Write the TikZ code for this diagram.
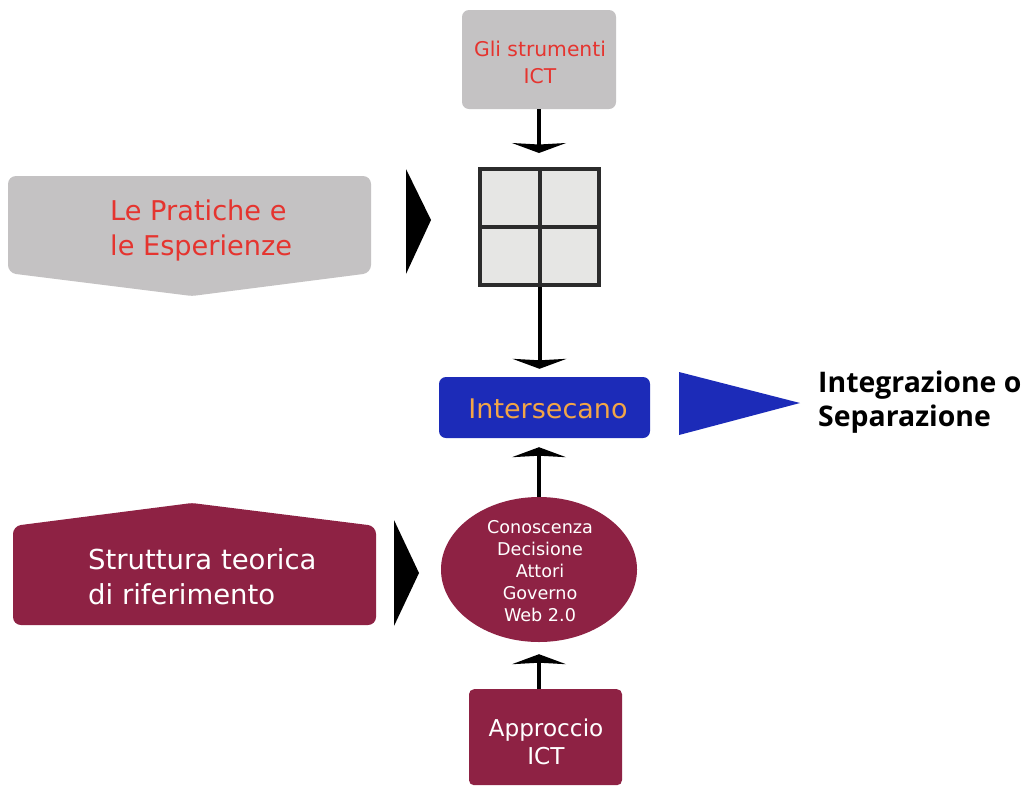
\documentclass[tikz,border=0pt]{standalone}
\usepackage{fontspec}
\setmainfont{DejaVu Sans}
\newfontfamily\boldface{Open Sans}
\usetikzlibrary{arrows.meta,shapes.geometric}
\definecolor{grigio}{HTML}{C4C2C3}
\definecolor{rosso}{HTML}{E5342F}
\definecolor{bordeaux}{HTML}{8E2244}
\definecolor{blu}{HTML}{1C2BB8}
\definecolor{arancio}{HTML}{F2A547}
\definecolor{cella}{HTML}{E6E6E4}
\definecolor{scuro}{HTML}{2B2B2B}
\tikzset{
  box/.style={rectangle,rounded corners=7pt,inner sep=0pt,align=center},
  txt/.style={inner sep=0pt,align=center},
  conn/.style={line width=4pt,-{Stealth[length=10pt,width=54pt,inset=1.5pt]}},
  greybox/.style={box,fill=grigio,text=rosso},
  redbox/.style={box,fill=bordeaux,text=white},
  pointer/.style={fill=black}
}
\begin{document}
\begin{tikzpicture}[x=1pt,y=-1pt]
\useasboundingbox (0,0) rectangle (1022,785);
\fill[white] (0,0) rectangle (1022,785);
% boxes
\node[greybox,minimum width=154pt,minimum height=99pt] (strumenti) at (539,59.5) {};
\node[txt,text=rosso,font=\fontsize{20.3}{27}\selectfont] (strumentitxt) at (540,62) {Gli strumenti\\ICT};
\node[draw=scuro,line width=4pt,fill=cella,minimum width=119pt,minimum height=116pt,inner sep=0pt] (griglia) at (539.5,227) {};
\draw[scuro,line width=4pt] (griglia.north) -- (griglia.south);
\draw[scuro,line width=4pt] (griglia.west) -- (griglia.east);
\node[box,fill=blu,minimum width=211pt,minimum height=61pt] (inter) at (544.5,407.5) {};
\node[txt,text=arancio,font=\fontsize{27}{30}\selectfont] (intertxt) at (548,409) {Intersecano};
\node[ellipse,fill=bordeaux,minimum width=196pt,minimum height=145pt,inner sep=0pt] (cono) at (539,569.5) {};
\node[txt,text=white,font=\fontsize{17.6}{22}\selectfont] (conotxt) at (540,571.5) {Conoscenza\\Decisione\\Attori\\Governo\\Web 2.0};
\node[redbox,anchor=north,rounded corners=5pt,minimum width=153pt,minimum height=96pt] (appr) at (545.5,689) {};
\node[txt,text=white,font=\fontsize{23.2}{28}\selectfont] (apprtxt) at (546,742) {Approccio\\ICT};
% pentagons
\fill[grigio,rounded corners=8pt] (8,176) -- (371,176) -- (371,273) [rounded corners=3pt] -- (192,296) [rounded corners=8pt] -- (8,273) -- cycle;
\node[txt,text=rosso,align=left,anchor=west,font=\fontsize{27.2}{35}\selectfont] (pratiche) at (110,230) {Le Pratiche e\\le Esperienze};
\fill[bordeaux,rounded corners=8pt] (13,526) [rounded corners=3pt] -- (192,503) [rounded corners=8pt] -- (376,526) -- (376,625) -- (13,625) -- cycle;
\node[txt,text=white,align=left,anchor=west,font=\fontsize{27.5}{35}\selectfont] (struttura) at (88,577) {Struttura teorica\\di riferimento};
% pointers
\fill[pointer] (406,169) -- (431,220) -- (406,274) -- cycle;
\fill[pointer] (394,520) -- (419,573) -- (394,626) -- cycle;
\fill[blu] (679,372) -- (800,403) -- (679,435) -- cycle;
\node[txt,align=left,anchor=west,font=\fontsize{28.4}{34}\selectfont\boldface\bfseries] (esito) at (818,402) {Integrazione o\\Separazione};
% connectors
\draw[conn,shorten >=14pt] (strumenti.south) -- (strumenti.south |- griglia.north);
\draw[conn,shorten >=8pt] (griglia.south) -- (griglia.south |- inter.north);
\draw[conn,shorten >=9pt] (cono.north) -- (cono.north |- inter.south);
\draw[conn,shorten >=12pt] (cono.south |- appr.north) -- (cono.south);
\end{tikzpicture}
\end{document}
